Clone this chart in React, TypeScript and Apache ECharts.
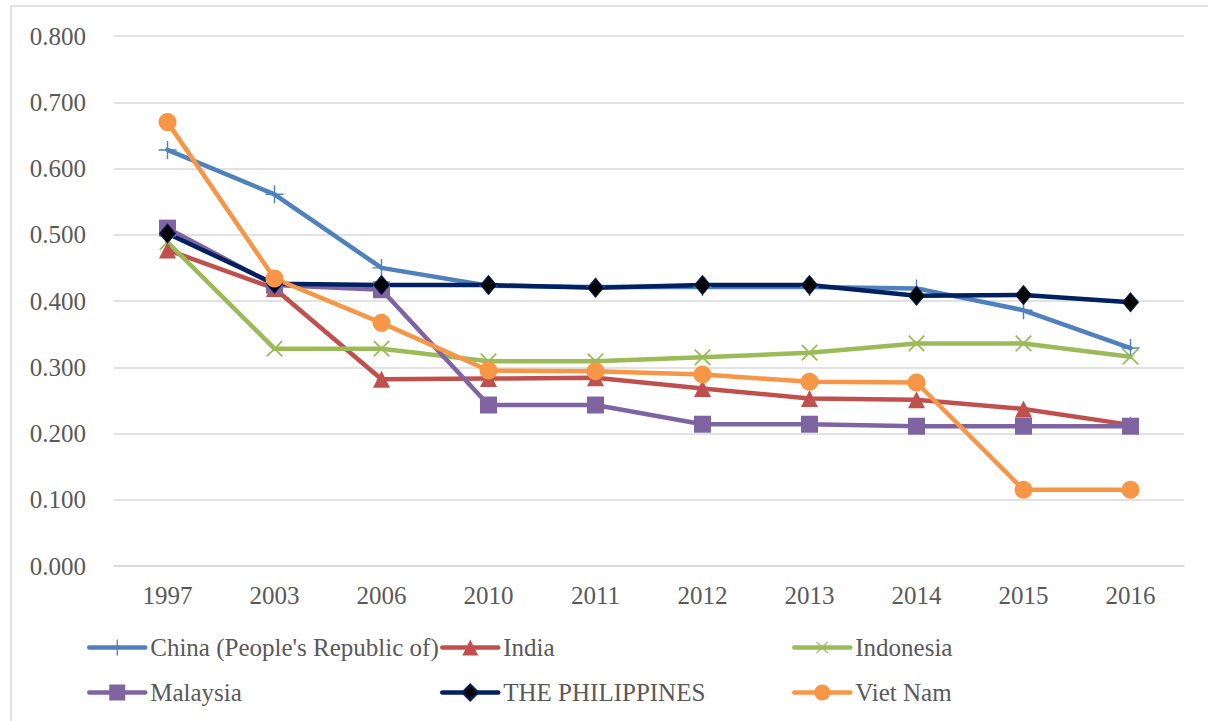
import React, { useEffect, useRef } from "react";
import * as echarts from "echarts";

const years = ["1997", "2003", "2006", "2010", "2011", "2012", "2013", "2014", "2015", "2016"];
const china = [0.628, 0.561, 0.45, 0.423, 0.421, 0.421, 0.421, 0.419, 0.386, 0.329];
const india = [0.477, 0.419, 0.282, 0.283, 0.284, 0.268, 0.253, 0.251, 0.237, 0.213];
const indonesia = [0.489, 0.328, 0.328, 0.309, 0.309, 0.315, 0.322, 0.336, 0.336, 0.316];
const malaysia = [0.51, 0.424, 0.417, 0.243, 0.243, 0.214, 0.214, 0.211, 0.211, 0.211];
const philippines = [0.502, 0.426, 0.424, 0.424, 0.42, 0.424, 0.424, 0.408, 0.409, 0.398];
const vietnam = [0.67, 0.434, 0.367, 0.295, 0.294, 0.289, 0.278, 0.277, 0.115, 0.115];

const seriesNames = [
  "China (People's Republic of)",
  "India",
  "Indonesia",
  "Malaysia",
  "THE PHILIPPINES",
  "Viet Nam",
];

const PLUS = "path://M9.2,0 H10.8 V9.2 H20 V10.8 H10.8 V20 H9.2 V10.8 H0 V9.2 H9.2 Z";

const FONT = "Liberation Serif";
const TEXT_COLOR = "#595959";
const FS = 25;

export default function App() {
  const ref = useRef<HTMLDivElement>(null);
  useEffect(() => {
    if (!ref.current) return;
    const chart = echarts.init(ref.current, undefined, { renderer: "svg" });
    const lineBase = (name: string, data: number[], color: string, symbol: string, size: any, extra: any = {}) => ({
      name,
      type: "line",
      data,
      symbol,
      symbolSize: size,
      showAllSymbol: true,
      lineStyle: { color, width: 4.5, cap: "round", join: "round" },
      itemStyle: { color, borderColor: color, borderWidth: 0 },
      emphasis: { disabled: true },
      ...extra,
    });
    const legendPos = [
      { left: 87, top: 635 },
      { left: 440, top: 635 },
      { left: 792, top: 635 },
      { left: 87, top: 680 },
      { left: 440, top: 680 },
      { left: 792, top: 680 },
    ];
    chart.setOption({
      animation: false,
      backgroundColor: "#ffffff",
      textStyle: { fontFamily: FONT },
      grid: { left: 114, right: 24, top: 36, bottom: 155, containLabel: false },
      graphic: [
        {
          type: "rect",
          shape: { x: 11, y: 6, width: 1300, height: 800 },
          style: { fill: "none", stroke: "#d9d9d9", lineWidth: 1.5 },
          silent: true,
        },
      ],
      legend: legendPos.map((p, i) => ({
        data: [seriesNames[i]],
        left: p.left,
        top: p.top,
        padding: 0,
        itemWidth: 56,
        itemHeight: 20,
        itemGap: 0,
        lineStyle: { width: 4.5, cap: "round" },
        textStyle: { fontFamily: FONT, fontSize: FS, color: TEXT_COLOR },
        selectedMode: false,
      })),
      xAxis: {
        type: "category",
        data: years,
        boundaryGap: true,
        axisLine: { show: true, lineStyle: { color: "#d9d9d9", width: 1.5 } },
        axisTick: { show: false },
        axisLabel: { fontFamily: FONT, fontSize: FS, color: TEXT_COLOR, margin: 17 },
      },
      yAxis: {
        type: "value",
        min: 0,
        max: 0.8,
        interval: 0.1,
        axisLine: { show: false },
        axisTick: { show: false },
        splitLine: { lineStyle: { color: "#d9d9d9", width: 1.5 } },
        axisLabel: {
          fontFamily: FONT,
          fontSize: FS,
          color: TEXT_COLOR,
          margin: 28,
          formatter: (v: number) => v.toFixed(3),
        },
      },
      series: [
        lineBase(seriesNames[0], china, "#4F81BD", PLUS, 18),
        lineBase(seriesNames[1], india, "#C0504D", "triangle", 17),
        lineBase(seriesNames[2], indonesia, "#9BBB59", PLUS, 22, { symbolRotate: 45 }),
        lineBase(seriesNames[3], malaysia, "#8064A2", "rect", 17),
        lineBase(seriesNames[4], philippines, "#002060", "diamond", [16, 19], {
          itemStyle: { color: "#000000", borderColor: "#002060", borderWidth: 1 },
        }),
        lineBase(seriesNames[5], vietnam, "#F79646", "circle", 18),
      ],
    });
    return () => chart.dispose();
  }, []);
  return (
    <div
      ref={ref}
      style={{ position: "absolute", left: 0, top: 0, width: 1208, height: 721, background: "#fff" }}
    />
  );
}
